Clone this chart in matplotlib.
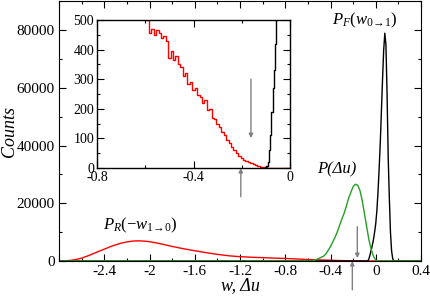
import matplotlib
matplotlib.use("Agg")
import matplotlib.pyplot as plt
from matplotlib.ticker import MultipleLocator, FuncFormatter

plt.rcParams['font.family'] = ['Liberation Serif', 'DejaVu Serif']
plt.rcParams['mathtext.fontset'] = 'custom'
plt.rcParams['mathtext.rm'] = 'Liberation Serif'
plt.rcParams['mathtext.it'] = 'Liberation Serif:italic'
plt.rcParams['mathtext.bf'] = 'Liberation Serif:bold'
plt.rcParams['axes.unicode_minus'] = False

# ---- data ----
# reverse work distribution P_R(-w_{1->0})
red_x = [-2.8, -2.75, -2.7, -2.65, -2.6, -2.55, -2.5, -2.45, -2.4, -2.35, -2.3, -2.25,
         -2.2, -2.15, -2.1, -2.05, -2.0, -1.95, -1.9, -1.85, -1.8, -1.75, -1.7, -1.65,
         -1.6, -1.5, -1.4, -1.3, -1.2, -1.1, -1.0, -0.9, -0.8, -0.7, -0.6, -0.5, -0.4,
         -0.3, -0.2, -0.1, 0.0, 0.4]
red_y = [0, 50, 200, 500, 1000, 1700, 2500, 3300, 4100, 4900, 5600, 6200,
         6600, 6900, 7000, 6900, 6700, 6350, 5950, 5500, 5050, 4650, 4250, 3900,
         3550, 2900, 2300, 1800, 1500, 1300, 1150, 1000, 880, 700, 500, 380, 250,
         140, 40, 5, 0, 0]

# P(Delta u)
green_x = [-2.8, -0.56, -0.52, -0.5, -0.46, -0.44, -0.4, -0.36, -0.34, -0.3, -0.28, -0.26,
           -0.24, -0.22, -0.2, -0.18, -0.16, -0.14, -0.12, -0.1, -0.08, -0.06, -0.04,
           -0.02, 0.0, 0.02, 0.04, 0.4]
green_y = [0, 0, 600, 900, 1700, 2500, 5000, 8200, 10100, 14500, 16500, 19000,
           21800, 23800, 25800, 26600, 26300, 24500, 21000, 16500, 11800, 7300, 4000,
           1600, 300, 50, 0, 0]

# forward work distribution P_F(w_{0->1})
black_x = [-2.8, -0.07, -0.06, -0.05, -0.04, -0.03, -0.02, -0.01, 0.0, 0.01, 0.02, 0.03,
           0.04, 0.05, 0.06, 0.07, 0.08, 0.09, 0.10, 0.11, 0.12, 0.13, 0.14, 0.15,
           0.16, 0.4]
black_y = [0, 0, 800, 2200, 3800, 5500, 7500, 10000, 13000, 17500, 24000, 32000,
           41000, 52000, 63000, 73000, 79000, 75000, 58000, 36000, 22000, 10000, 3500, 800,
           0, 0]

# inset: zoom of the overlap region
inset_red_x = [-0.62, -0.61, -0.60, -0.59, -0.58, -0.57, -0.56, -0.55, -0.54, -0.53, -0.52,
               -0.51, -0.50, -0.49, -0.48, -0.47, -0.46, -0.45, -0.44, -0.43, -0.42,
               -0.41, -0.40, -0.39, -0.38, -0.37, -0.36, -0.35, -0.34, -0.33, -0.32,
               -0.31, -0.30, -0.29, -0.28, -0.27, -0.26, -0.25, -0.24, -0.23, -0.22,
               -0.21, -0.20, -0.19, -0.18, -0.17, -0.16, -0.15, -0.14, -0.13, -0.12,
               -0.11, -0.10, -0.09, -0.08, -0.07, -0.06, -0.05, -0.04, -0.03, -0.02,
               -0.01, 0.0]
inset_red_y = [560, 530, 510, 500, 455, 470, 450, 465, 455, 440, 445,
               430, 370, 395, 365, 380, 350, 340, 310, 320, 285,
               290, 265, 270, 245, 240, 220, 230, 195, 200, 170,
               165, 150, 140, 120, 110, 95, 85, 70, 62, 50,
               40, 35, 28, 25, 20, 18, 14, 10, 8, 5,
               3, 2, 1, 0, 0, 0, 0, 0, 0, 0,
               0, 0]
inset_black_x = [-0.12, -0.11, -0.10, -0.095, -0.09, -0.085, -0.08, -0.075, -0.07, -0.065,
                 -0.06, -0.057, -0.05]
inset_black_y = [0, 0, 2, 8, 20, 60, 110, 190, 270, 330, 420, 500, 700]


def main_xfmt(v, p):
    if v < -2.7:
        return ''
    return '0' if abs(v) < 1e-9 else '%g' % round(v, 1)


def inset_xfmt(v, p):
    return '0' if abs(v) < 1e-9 else '%g' % round(v, 1)


# ---- figure ----
fig = plt.figure(figsize=(4.31, 2.98), dpi=100)
ax = fig.add_axes([0.1369, 0.1242, 0.8399, 0.8708])

ax.plot(red_x, red_y, color='#ff0000', lw=1.0)
ax.plot(black_x, black_y, color='black', lw=1.0)
ax.plot(green_x, green_y, color='#22a022', lw=1.0)

ax.set_xlim(-2.8, 0.4)
ax.set_ylim(0, 90000)
ax.xaxis.set_major_locator(MultipleLocator(0.4))
ax.xaxis.set_minor_locator(MultipleLocator(0.2))
ax.yaxis.set_major_locator(MultipleLocator(20000))
ax.yaxis.set_minor_locator(MultipleLocator(10000))
ax.xaxis.set_major_formatter(FuncFormatter(main_xfmt))
ax.tick_params(which='both', direction='in', top=True, right=True, labelsize=11, pad=3)
ax.tick_params(which='major', length=5, width=0.8)
ax.tick_params(which='minor', length=2.5, width=0.8)
ax.set_xlabel('w, Δu', fontsize=13, style='italic')
ax.set_ylabel('Counts', fontsize=13, style='italic')
ax.xaxis.set_label_coords(0.5, -0.062)
ax.yaxis.set_label_coords(-0.113, 0.5)
for s in ax.spines.values():
    s.set_linewidth(0.8)

ax.text(-0.099, 83400, r'$P_F(w_{0\!\rightarrow\!1})$', fontsize=12, ha='center', va='center')
ax.text(-0.342, 31800, 'P(Δu)', fontsize=12, style='italic', ha='center', va='center')
ax.text(-2.078, 12500, r'$P_R(\mathrm{-}w_{1\!\rightarrow\!0})$', fontsize=12, ha='center', va='center')

arrow_kw = dict(arrowstyle='-|>', color='#808080', lw=1.0, mutation_scale=6, shrinkA=0, shrinkB=0)
ax.annotate('', xy=(-0.163, 1000), xytext=(-0.163, 11900), arrowprops=arrow_kw, annotation_clip=False)
ax.annotate('', xy=(-0.207, 0), xytext=(-0.207, -10000), arrowprops=arrow_kw, annotation_clip=False)

# inset
axi = fig.add_axes([0.2251, 0.4362, 0.4478, 0.4967])
axi.plot(inset_red_x, inset_red_y, color='#ff0000', lw=1.0, drawstyle='steps-mid')
axi.plot(inset_black_x, inset_black_y, color='black', lw=1.0, drawstyle='steps-mid')
axi.set_xlim(-0.8, 0)
axi.set_ylim(0, 500)
axi.xaxis.set_major_locator(MultipleLocator(0.4))
axi.xaxis.set_minor_locator(MultipleLocator(0.2))
axi.yaxis.set_major_locator(MultipleLocator(100))
axi.yaxis.set_minor_locator(MultipleLocator(50))
axi.xaxis.set_major_formatter(FuncFormatter(inset_xfmt))
axi.tick_params(which='both', direction='in', top=True, right=True, labelsize=10, pad=2)
axi.tick_params(which='major', length=5, width=0.8)
axi.tick_params(which='minor', length=2.5, width=0.8)
for s in axi.spines.values():
    s.set_linewidth(1.0)
axi.annotate('', xy=(-0.162, 101), xytext=(-0.162, 300), arrowprops=arrow_kw, annotation_clip=False)
axi.annotate('', xy=(-0.204, 0), xytext=(-0.204, -97), arrowprops=arrow_kw, annotation_clip=False)

fig.savefig('out.png', dpi=100)
